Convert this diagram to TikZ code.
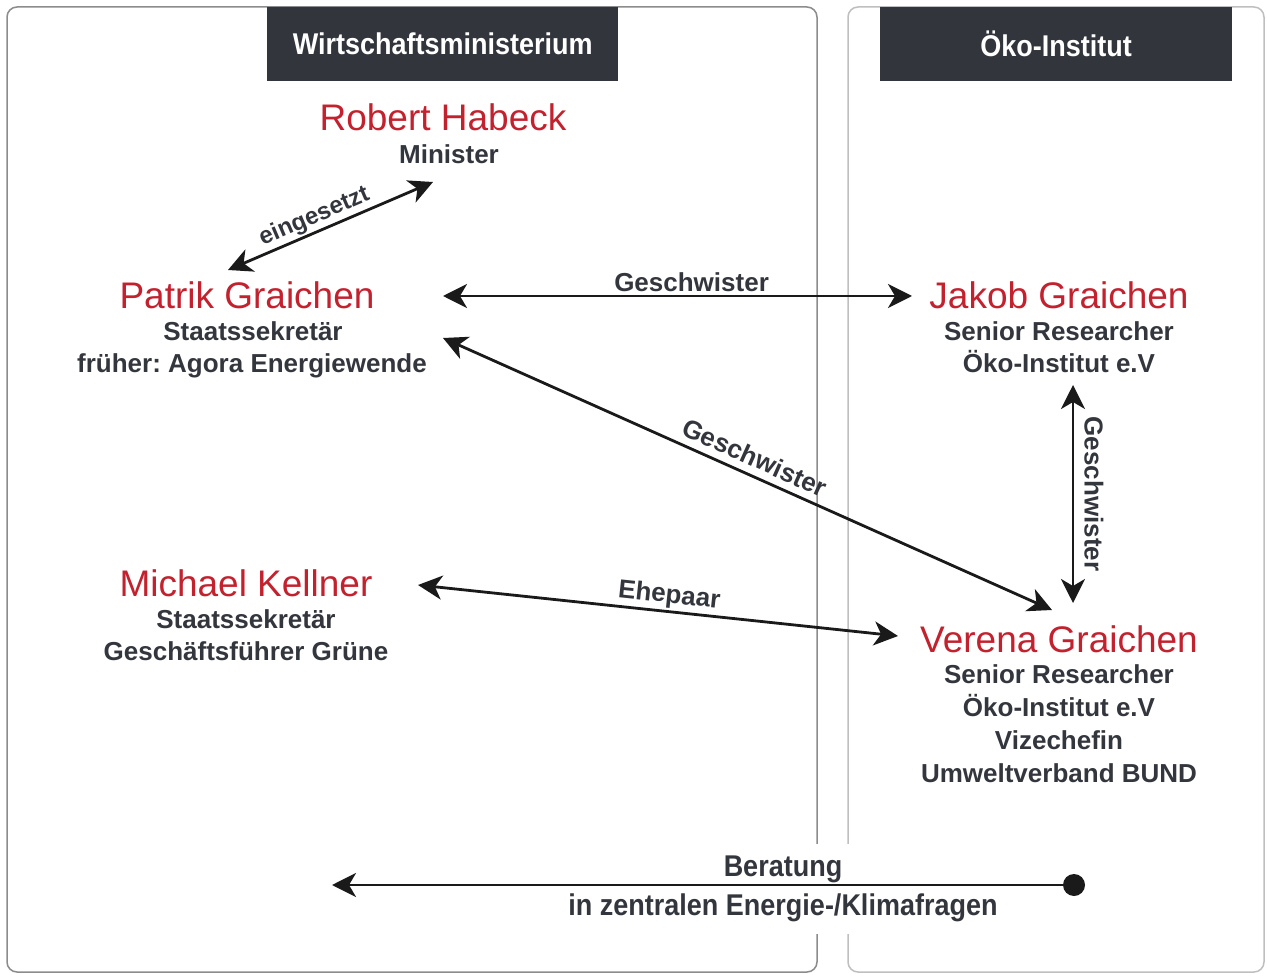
\documentclass[tikz,border=0pt]{standalone}
\usepackage{fontspec}
\setmainfont{Liberation Sans}
\newfontfamily\condfont[FakeStretch=0.9]{Liberation Sans}
\usetikzlibrary{arrows.meta,calc}
\definecolor{hdr}{HTML}{32363C}
\definecolor{dtext}{HTML}{33363D}
\definecolor{nred}{HTML}{C4212F}
\definecolor{lineblk}{HTML}{1A1A1A}
\frenchspacing
\tikzset{
  panel/.style={draw=#1, line width=1.5pt, rounded corners=10pt},
  header/.style={fill=hdr, draw=none, text=white, font=\condfont\bfseries\fontsize{30}{36}\selectfont},
  pname/.style={text=nred, font=\fontsize{37}{44}\selectfont, inner sep=0pt, text height=27pt, text depth=1pt},
  psub/.style={text=dtext, font=\bfseries\fontsize{26}{32}\selectfont, inner sep=0pt, text height=19pt, text depth=0.5pt},
  lbl/.style={text=dtext, font=\bfseries\fontsize{26}{32}\selectfont, inner sep=2pt},
  arr/.style={line width=2.8pt, draw=lineblk, {Stealth[length=24pt,width=24pt,inset=7pt]}-{Stealth[length=24pt,width=24pt,inset=7pt]}},
  oarr/.style={line width=2.8pt, draw=lineblk, -{Stealth[length=24pt,width=24pt,inset=7pt]}},
}
\begin{document}
\begin{tikzpicture}[x=1pt,y=-1pt]
\useasboundingbox (0,0) rectangle (1267,976);
\fill[white] (0,0) rectangle (1267,976);
% panels
\draw[panel=black!45] (7,7) rectangle (817,972);
\draw[panel=black!25] (848,7) rectangle (1264,972);
% headers
\node[header, minimum width=351pt, minimum height=74pt, anchor=north west] (hw) at (267,7) {Wirtschaftsministerium};
\node[header, minimum width=352pt, minimum height=74pt, anchor=north west] (ho) at (880,7) {Öko-Institut};
% persons
\node[pname] (rh) at (443,118) {Robert Habeck};
\node[psub] (rh1) at (449,154) {Minister};
\node[pname] (pg) at (247,296) {Patrik Graichen};
\node[psub] (pg1) at (253,331) {Staatssekretär};
\node[psub] (pg2) at (252,363) {früher: Agora Energiewende};
\node[pname] (mk) at (246,583) {Michael Kellner};
\node[psub] (mk1) at (246,619) {Staatssekretär};
\node[psub] (mk2) at (246,651) {Geschäftsführer Grüne};
\node[pname] (jg) at (1059,296) {Jakob Graichen};
\node[psub] (jg1) at (1059,331) {Senior Researcher};
\node[psub] (jg2) at (1059,363) {Öko-Institut e.V};
\node[pname] (vg) at (1059,639) {Verena Graichen};
\node[psub] (vg1) at (1059,674) {Senior Researcher};
\node[psub] (vg2) at (1059,707) {Öko-Institut e.V};
\node[psub] (vg3) at (1059,740) {Vizechefin};
\node[psub] (vg4) at (1059,773) {Umweltverband BUND};
% connectors
\draw[arr] ($(pg)+(-19,-26)$) -- node[lbl, pos=0.45, above, sloped, font=\bfseries\fontsize{24}{28}\selectfont] {eingesetzt} ($(rh)+(-10,64)$);
\draw[arr] ($(pg)+(196,0)$) -- node[lbl, pos=0.53, above=1pt] {Geschwister} ($(jg)+(-147,0)$);
\draw[arr] ($(pg)+(196,42)$) -- node[lbl, pos=0.5, above=5pt, sloped] {Geschwister} ($(vg)+(-7,-29)$);
\draw[arr] ($(jg)+(14,89)$) -- node[lbl, midway, above=8pt, sloped] {Geschwister} ($(vg)+(14,-36)$);
\draw[arr] ($(mk)+(172,2)$) -- node[lbl, pos=0.52, above, sloped] {Ehepaar} ($(vg)+(-161,-3)$);
% Beratung
\node[fill=white, inner sep=0pt, minimum width=440pt, minimum height=90pt, align=center, text=dtext, font=\condfont\bfseries\fontsize{30}{39}\selectfont] (ber) at (783,889) {Beratung\\in zentralen Energie-/Klimafragen};
\node[circle, fill=lineblk, minimum size=22pt, inner sep=0pt] (dot) at ($(vg)+(15,246)$) {};
\coordinate (berL) at (332,885);
\draw[oarr] (dot.center) -- (berL);
\end{tikzpicture}
\end{document}
